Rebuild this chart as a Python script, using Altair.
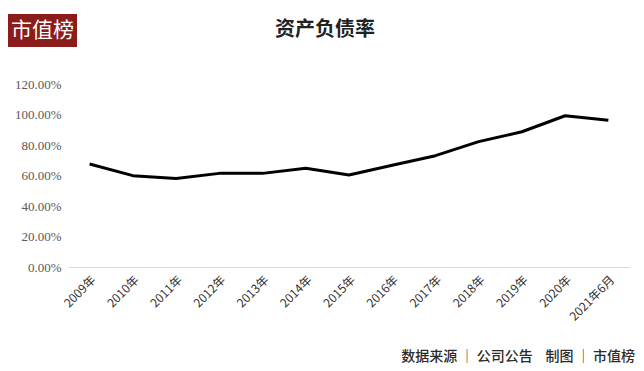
import altair as alt
import pandas as pd

years = ["2009年", "2010年", "2011年", "2012年", "2013年", "2014年", "2015年",
         "2016年", "2017年", "2018年", "2019年", "2020年", "2021年6月"]
ratio = [67.5, 59.9, 58.0, 61.4, 61.4, 64.7, 60.3, 66.7, 73.0, 82.2, 88.7, 99.2, 96.2]
y_ticks = [0, 20, 40, 60, 80, 100, 120]
title_text = "资产负债率"
logo_text = "市值榜"
source_text = "数据来源\u2009│\u2009公司公告\u00a0\u00a0\u00a0\u00a0制图\u2009│\u2009市值榜"

FONT = "Noto Sans CJK SC"

df = pd.DataFrame({"year": years, "ratio": ratio})

line = alt.Chart(df).mark_line(color="#000000", strokeWidth=3, strokeJoin="round").encode(
    x=alt.X("year:N", sort=years, title=None,
            scale=alt.Scale(type="point", padding=0.5),
            axis=alt.Axis(labelAngle=-45, labelAlign="right", labelBaseline="top",
                          labelFontSize=12, labelColor="#333333", labelFont=FONT,
                          ticks=False, domainColor="#d9d9d9", domainWidth=1,
                          labelPadding=7)),
    y=alt.Y("ratio:Q", title=None,
            scale=alt.Scale(domain=[0, 120], nice=False),
            axis=alt.Axis(values=y_ticks, labelExpr="format(datum.value, '.2f') + '%'",
                          grid=False, domain=False, ticks=False,
                          labelFontSize=13, labelColor="#595959",
                          labelFont="Liberation Serif", labelPadding=7)),
)

one = pd.DataFrame({"t": [title_text]})

title = alt.Chart(one).mark_text(fontSize=20, font=FONT, fontWeight="bold",
                                 color="#222222", align="center", baseline="middle").encode(
    x=alt.value(257), y=alt.value(-54), text=alt.value(title_text))

logo_bg = alt.Chart(one).mark_rect(color="#8b1c1c").encode(
    x=alt.value(-60), x2=alt.value(9), y=alt.value(-70), y2=alt.value(-37))

logo = alt.Chart(one).mark_text(fontSize=21, font=FONT, color="#ffffff",
                                align="center", baseline="middle").encode(
    x=alt.value(-25.5), y=alt.value(-53.5), text=alt.value(logo_text))

source = alt.Chart(one).mark_text(fontSize=14, font=FONT, fontWeight=500,
                                  color="#2a2a2a", align="right", baseline="middle").encode(
    x=alt.value(567), y=alt.value(273), text=alt.value(source_text))

chart = alt.layer(line, title, logo_bg, logo, source).properties(
    width=562, height=183,
    autosize=alt.AutoSizeParams(type="none"),
    padding={"left": 60, "top": 76, "right": 6, "bottom": 100},
    background="#ffffff",
).configure_view(stroke=None)

chart.save("out.html", embed_options={"renderer": "svg", "actions": False})
